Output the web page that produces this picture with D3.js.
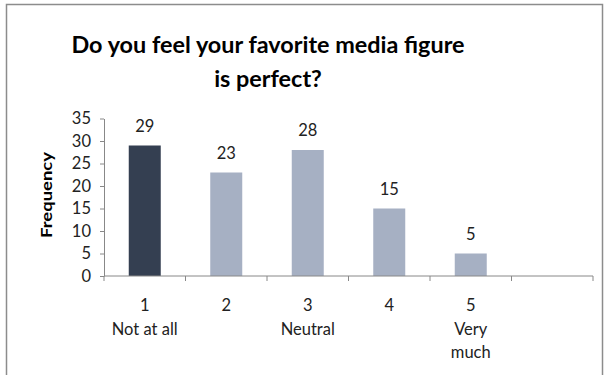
<!DOCTYPE html>
<html>
<head>
<meta charset="utf-8">
<script src="https://cdn.jsdelivr.net/npm/d3@7"></script>
<style>
  body { margin: 0; background: #fff; }
  text { font-family: Lato, "Open Sans", "Liberation Sans", sans-serif; }
</style>
</head>
<body>
<div id="chart"></div>
<script>
// data
var categories = ["1", "2", "3", "4", "5", ""];
var subLabels = [["Not at all"], [], ["Neutral"], [], ["Very", "much"], []];
var values = [29, 23, 28, 15, 5];
var yTicks = [0, 5, 10, 15, 20, 25, 30, 35];

var width = 608, height = 375;
var margin = { top: 118.5, right: 15, bottom: 99, left: 104 };
var innerW = 593 - margin.left, innerH = 276 - margin.top;

var svg = d3.select("#chart").append("svg")
    .attr("width", width).attr("height", height);

// outer frame
svg.append("rect").attr("x", 6.5).attr("y", 4.5)
    .attr("width", 596).attr("height", 400)
    .attr("fill", "none").attr("stroke", "#8c8c8c").attr("stroke-width", 1.5);

// title
svg.append("text").attr("x", 268).attr("y", 53)
    .attr("text-anchor", "middle").style("font-size", "23.4px").style("font-weight", "bold")
    .attr("fill", "#000").text("Do you feel your favorite media figure");
svg.append("text").attr("x", 268).attr("y", 87)
    .attr("text-anchor", "middle").style("font-size", "23.4px").style("font-weight", "bold")
    .attr("fill", "#000").text("is perfect?");

var g = svg.append("g").attr("transform", "translate(" + margin.left + "," + margin.top + ")");

var x = d3.scaleBand().domain(d3.range(categories.length)).range([0, innerW]).paddingInner(0).paddingOuter(0);
var y = d3.scaleLinear().domain([0, 35]).range([innerH, 0]);

// bars
g.selectAll("rect.bar").data(values).enter().append("rect")
    .attr("class", "bar")
    .attr("x", function(d, i) { return x(i) + x.bandwidth() / 2 - 16; })
    .attr("width", 32)
    .attr("y", function(d) { return y(d); })
    .attr("height", function(d) { return innerH - y(d); })
    .attr("fill", function(d, i) { return i === 0 ? "#343f51" : "#a6b0c3"; });

// value labels
g.selectAll("text.val").data(values).enter().append("text")
    .attr("class", "val")
    .attr("x", function(d, i) { return x(i) + x.bandwidth() / 2; })
    .attr("y", function(d) { return y(d) - 14; })
    .attr("text-anchor", "middle").style("font-size", "16.5px").attr("fill", "#222")
    .text(function(d) { return d; });

// y axis
var yAxis = g.append("g").call(d3.axisLeft(y).tickValues(yTicks).tickSize(4).tickSizeOuter(0).tickPadding(9));
yAxis.select(".domain").attr("stroke", "#888");
yAxis.selectAll(".tick line").attr("stroke", "#888");
yAxis.selectAll(".tick text").style("font-size", "16.5px").attr("fill", "#222")
    .style("font-family", "Lato, 'Open Sans', sans-serif");

// x axis with ticks at category boundaries
var xAxisG = g.append("g").attr("transform", "translate(0," + innerH + ")");
xAxisG.append("line").attr("x1", 0).attr("x2", innerW).attr("stroke", "#888");
xAxisG.selectAll("line.tk").data(d3.range(categories.length + 1)).enter().append("line")
    .attr("class", "tk")
    .attr("x1", function(i) { return i * x.step(); }).attr("x2", function(i) { return i * x.step(); })
    .attr("y1", 0).attr("y2", 5).attr("stroke", "#888");

xAxisG.selectAll("text.cat").data(categories).enter().append("text")
    .attr("class", "cat")
    .attr("x", function(d, i) { return x(i) + x.bandwidth() / 2; })
    .attr("y", 35)
    .attr("text-anchor", "middle").style("font-size", "16.5px").attr("fill", "#222")
    .text(function(d) { return d; });

subLabels.forEach(function(lines, i) {
    lines.forEach(function(t, j) {
        xAxisG.append("text")
            .attr("x", x(i) + x.bandwidth() / 2)
            .attr("y", 59 + j * 23)
            .attr("text-anchor", "middle").style("font-size", "16.5px").attr("fill", "#222")
            .text(t);
    });
});

// y axis title
svg.append("text")
    .attr("transform", "translate(52,195) rotate(-90)")
    .attr("text-anchor", "middle").style("font-size", "16px").style("font-weight", "bold")
    .attr("textLength", 86).attr("lengthAdjust", "spacingAndGlyphs")
    .attr("fill", "#000").text("Frequency");
</script>
</body>
</html>
